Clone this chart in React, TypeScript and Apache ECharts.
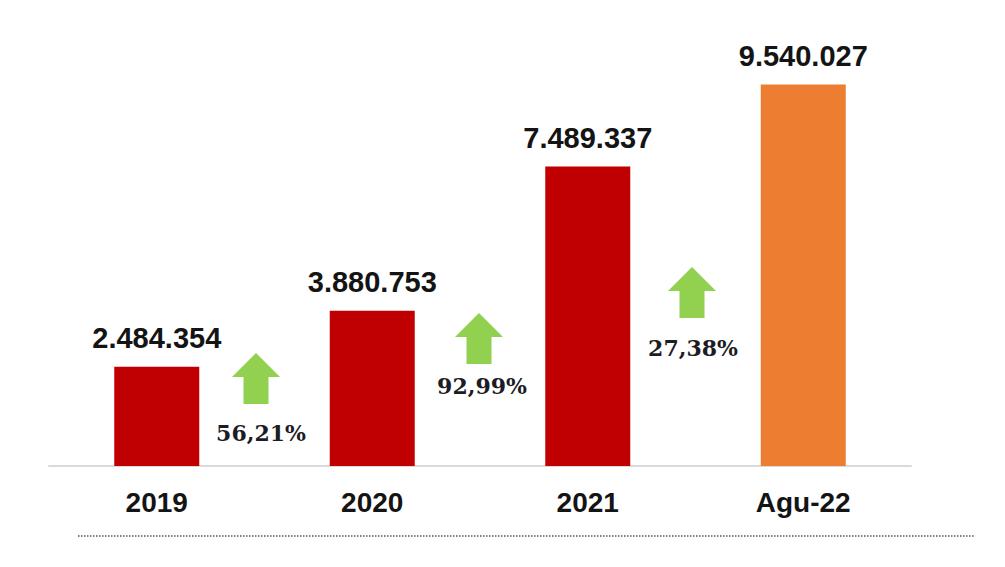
import React, { useEffect, useRef } from "react";
import * as echarts from "echarts";

const categories = ["2019", "2020", "2021", "Agu-22"];
const values = [2484354, 3880753, 7489337, 9540027];
const barColors = ["#c00000", "#c00000", "#c00000", "#ed7d31"];
const growthLabels = ["56,21%", "92,99%", "27,38%"];

const fmt = (v: number) => String(v).replace(/\B(?=(\d{3})+(?!\d))/g, ".");

function arrow(cx: number, top: number) {
  const w = 48, h = 51, head = 24, shaft = 25;
  return {
    type: "polygon",
    shape: {
      points: [
        [cx, top],
        [cx + w / 2, top + head],
        [cx + shaft / 2, top + head],
        [cx + shaft / 2, top + h],
        [cx - shaft / 2, top + h],
        [cx - shaft / 2, top + head],
        [cx - w / 2, top + head],
      ],
    },
    style: { fill: "#92d050" },
    silent: true,
  };
}

const arrowPos = [
  { x: 256, y: 353, lx: 261, ly: 433 },
  { x: 479, y: 313, lx: 482, ly: 386 },
  { x: 692, y: 267, lx: 693, ly: 348 },
];

export default function App() {
  const ref = useRef<HTMLDivElement>(null);
  useEffect(() => {
    if (!ref.current) return;
    const chart = echarts.init(ref.current, null, { renderer: "svg" });
    const graphics: any[] = [];
    growthLabels.forEach((t, i) => {
      const p = arrowPos[i];
      graphics.push(arrow(p.x, p.y));
      graphics.push({
        type: "text",
        x: p.lx,
        y: p.ly,
        style: {
          text: t,
          font: "bold 22px 'DejaVu Serif'",
          fill: "#1c1c24",
          align: "center",
          verticalAlign: "middle",
        },
        silent: true,
      });
    });
    graphics.push({
      type: "line",
      shape: { x1: 78, y1: 536, x2: 975, y2: 536 },
      style: { stroke: "#808080", lineWidth: 2, lineDash: [1.5, 1.5] },
      silent: true,
    });
    chart.setOption({
      animation: false,
      grid: { left: 49, right: 94, top: 66, bottom: 101 },
      xAxis: {
        type: "category",
        data: categories,
        axisLine: { lineStyle: { color: "#d9d9d9", width: 2 } },
        axisTick: { show: false },
        axisLabel: {
          margin: 22,
          fontFamily: "'Liberation Sans', Arial, sans-serif",
          fontWeight: "bold",
          fontSize: 28,
          color: "#141414",
        },
      },
      yAxis: {
        type: "value",
        min: 0,
        max: 10000000,
        show: false,
        splitLine: { show: false },
      },
      series: [
        {
          type: "bar",
          barWidth: 85,
          data: values.map((v, i) => ({ value: v, itemStyle: { color: barColors[i] } })),
          label: {
            show: true,
            position: "top",
            distance: 14,
            formatter: (p: any) => fmt(p.value),
            fontFamily: "'Liberation Sans', Arial, sans-serif",
            fontWeight: "bold",
            fontSize: 29,
            color: "#141414",
          },
        },
      ],
      graphic: graphics,
    });
    return () => chart.dispose();
  }, []);
  return (
    <div
      ref={ref}
      style={{ position: "absolute", left: 0, top: 0, width: 1005, height: 567, background: "#fff" }}
    />
  );
}
